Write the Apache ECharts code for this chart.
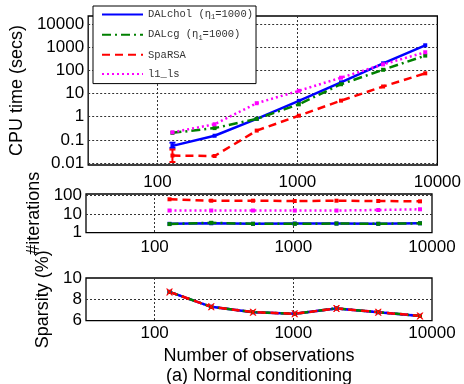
<!DOCTYPE html>
<html>
<head>
<meta charset="utf-8">
<script src="https://cdn.jsdelivr.net/npm/echarts@6/dist/echarts.min.js"></script>
<style>
  html, body { margin: 0; padding: 0; background: #fff; }
  #chart { width: 464px; height: 384px; }
</style>
</head>
<body>
<div id="chart"></div>
<script>
// number of observations (x) shared by all three panels
const nObs = [128, 256, 512, 1024, 2048, 4096, 8192];

// CPU time (secs)
const cpuDalchol = [0.055, 0.15, 0.8, 4.8, 30, 200, 1200];
const cpuDalcg = [0.2, 0.32, 0.8, 3.4, 25, 105, 430];
const cpuSparsa = [0.021, 0.02, 0.25, 1.1, 4.9, 20, 74];
const cpuL1ls = [0.21, 0.47, 3.8, 13, 48, 180, 600];

// error bars visible at n=128: [x, low, high]
const errDalchol = [[128, 0.045, 0.075]];
const errSparsa = [[128, 0.011, 0.038]];

// #iterations
const itDalchol = [3.0, 3.2, 3.0, 3.1, 3.1, 3.0, 3.2];
const itDalcg = [2.9, 3.4, 3.0, 3.0, 3.1, 3.0, 3.2];
const itSparsa = [62, 52, 52, 50, 52, 50, 48];
const itL1ls = [15.5, 15.5, 15.5, 15.5, 15.5, 16.5, 18];

// sparsity (%) - same for every method
const sparsity = [8.7, 7.3, 6.8, 6.65, 7.15, 6.8, 6.45];

const names = ["DALchol (η1=1000)", "DALcg (η1=1000)", "SpaRSA", "l1_ls"];
const colors = ["#0000ff", "#008000", "#ff0000", "#ff00ff"];
const dashes = ["solid", [9, 4, 2, 4], [8, 5], [2, 3]];

const FONT = "Liberation Sans";
const xMarker = "path://M0,0L2,0L5,3L8,0L10,0L6.5,5L10,10L8,10L5,7L2,10L0,10L3.5,5Z";

const chart = echarts.init(document.getElementById("chart"), null, { renderer: "canvas" });

const pair = (ys) => nObs.map((x, i) => [x, ys[i]]);

const powLabel = (v) => {
  const l = Math.log10(v);
  const e = Math.round(l);
  if (Math.abs(l - e) > 1e-6) return "";
  return e < 0 ? Math.pow(10, e).toFixed(-e) : String(Math.pow(10, e));
};

const gridLine = { show: true, showMinLine: false, showMaxLine: false, lineStyle: { color: "#333", type: [2, 2], width: 1 } };

const mkX = (idx, margin) => ({
  type: "log",
  gridIndex: idx,
  min: 32,
  max: 10000,
  axisLine: { show: false },
  axisTick: { show: false },
  axisLabel: { formatter: powLabel, color: "#000", fontSize: 17, fontFamily: FONT, margin: margin },
  splitLine: gridLine,
});

const mkLine = (i, data, xi, opts) => Object.assign({
  name: names[i],
  type: "line",
  xAxisIndex: xi,
  yAxisIndex: xi,
  data: data,
  symbol: "rect",
  symbolSize: 4,
  color: colors[i],
  lineStyle: { color: colors[i], width: 2.5, type: dashes[i] },
  itemStyle: { color: colors[i] },
  animation: false,
  silent: true,
}, opts || {});

const mkErr = (i, data) => ({
  name: names[i],
  type: "custom",
  xAxisIndex: 0,
  yAxisIndex: 0,
  data: data,
  silent: true,
  z: 3,
  renderItem: (params, api) => {
    const lo = api.coord([api.value(0), api.value(1)]);
    const hi = api.coord([api.value(0), api.value(2)]);
    const style = { stroke: colors[i], lineWidth: 2 };
    const w = 3;
    return {
      type: "group",
      children: [
        { type: "line", shape: { x1: lo[0], y1: lo[1], x2: hi[0], y2: hi[1] }, style: style },
        { type: "line", shape: { x1: lo[0] - w, y1: lo[1], x2: lo[0] + w, y2: lo[1] }, style: style },
        { type: "line", shape: { x1: hi[0] - w, y1: hi[1], x2: hi[0] + w, y2: hi[1] }, style: style },
      ],
    };
  },
});

const option = {
  backgroundColor: "#fff",
  animation: false,
  title: {
    text: "(a) Normal conditioning",
    left: 259,
    top: 367,
    textAlign: "center",
    padding: 0,
    textStyle: { fontSize: 18, fontWeight: "normal", color: "#000", fontFamily: FONT },
  },
  legend: {
    data: names,
    orient: "vertical",
    left: 93,
    top: 6,
    padding: [3, 3, 4, 8],
    itemGap: 8,
    itemWidth: 41,
    itemHeight: 14,
    backgroundColor: "#fff",
    borderColor: "#000",
    borderWidth: 1,
    borderRadius: 0,
    itemStyle: { opacity: 0 },
    selectedMode: false,
    formatter: (n) => n.replace("η1", "η{sub|1}"),
    textStyle: {
      fontFamily: "Liberation Mono",
      fontSize: 10.5,
      color: "#333",
      rich: { sub: { fontFamily: "Liberation Mono", fontSize: 7, color: "#333", padding: [6, 0, 0, 0] } },
    },
  },
  grid: [
    { left: 86, top: 16, right: 26, height: 149, show: true, borderColor: "#000", borderWidth: 1.3, backgroundColor: "transparent" },
    { left: 86, top: 194, right: 32, height: 38.7, show: true, borderColor: "#000", borderWidth: 1.3, backgroundColor: "transparent" },
    { left: 86, top: 278, right: 32, height: 42.7, show: true, borderColor: "#000", borderWidth: 1.3, backgroundColor: "transparent" },
  ],
  xAxis: [
    mkX(0, 9),
    mkX(1, 6),
    Object.assign(mkX(2, 4), {
      name: "Number of observations",
      nameLocation: "middle",
      nameGap: 26,
      nameTextStyle: { fontSize: 18, color: "#000", fontFamily: FONT },
    }),
  ],
  yAxis: [
    {
      type: "log",
      gridIndex: 0,
      min: 0.0082,
      max: 22000,
      splitNumber: 7,
      name: "CPU time (secs)",
      nameLocation: "middle",
      nameGap: 60,
      nameTextStyle: { fontSize: 18, color: "#000", fontFamily: FONT },
      axisLine: { show: false },
      axisTick: { show: false },
      axisLabel: { formatter: powLabel, color: "#000", fontSize: 17, fontFamily: FONT, margin: 4 },
      splitLine: gridLine,
    },
    {
      type: "log",
      gridIndex: 1,
      min: 1,
      max: 119,
      splitNumber: 3,
      name: "#iterations",
      nameLocation: "middle",
      nameGap: 39,
      nameTextStyle: { fontSize: 18, color: "#000", fontFamily: FONT },
      axisLine: { show: false },
      axisTick: { show: false },
      axisLabel: { formatter: powLabel, color: "#000", fontSize: 17, fontFamily: FONT, margin: 4 },
      splitLine: gridLine,
    },
    {
      type: "value",
      gridIndex: 2,
      min: 6,
      max: 10,
      interval: 2,
      name: "Sparsity (%)",
      nameLocation: "middle",
      nameGap: 31,
      nameTextStyle: { fontSize: 18, color: "#000", fontFamily: FONT },
      axisLine: { show: false },
      axisTick: { show: false },
      axisLabel: { color: "#000", fontSize: 17, fontFamily: FONT, margin: 4 },
      splitLine: gridLine,
    },
  ],
  series: [
    // CPU time
    mkLine(0, pair(cpuDalchol), 0),
    mkLine(1, pair(cpuDalcg), 0),
    mkLine(2, pair(cpuSparsa), 0),
    mkLine(3, pair(cpuL1ls), 0),
    mkErr(0, errDalchol),
    mkErr(2, errSparsa),
    // iterations
    mkLine(3, pair(itL1ls), 1),
    mkLine(2, pair(itSparsa), 1),
    mkLine(0, pair(itDalchol), 1),
    mkLine(1, pair(itDalcg), 1),
    // sparsity
    mkLine(3, pair(sparsity), 2),
    mkLine(0, pair(sparsity), 2),
    mkLine(1, pair(sparsity), 2),
    mkLine(2, pair(sparsity), 2, { symbol: xMarker, symbolSize: 7 }),
  ],
};

chart.setOption(option);
</script>
</body>
</html>
